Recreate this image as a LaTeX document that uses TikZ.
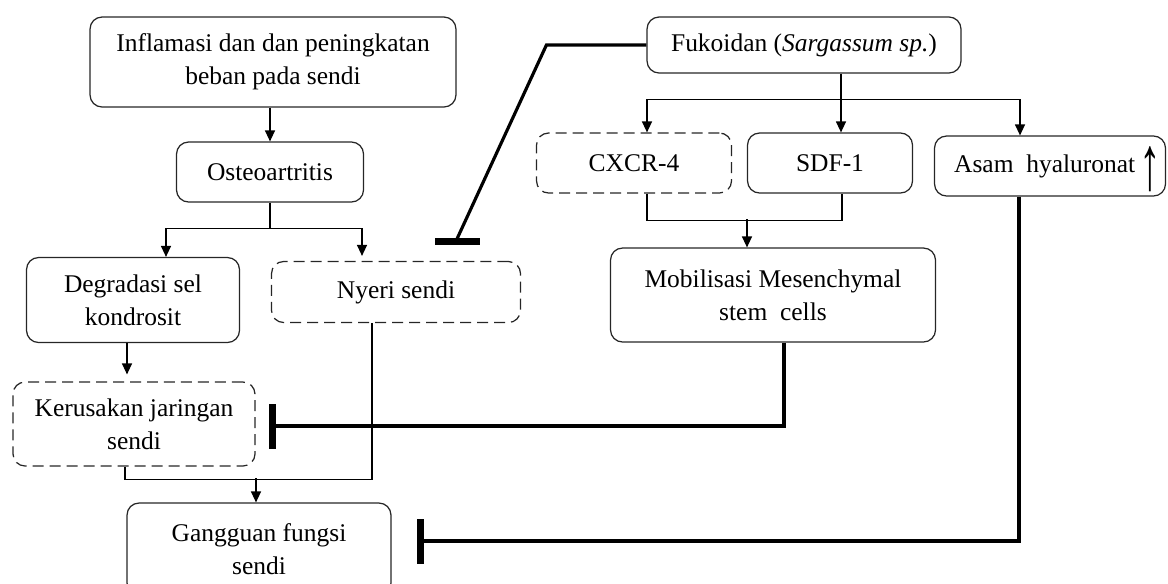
\documentclass[tikz,border=0pt]{standalone}
\usepackage{fontspec}
\setmainfont{Liberation Serif}
\usetikzlibrary{arrows.meta,calc}
\definecolor{boxgray}{rgb}{0.15,0.15,0.15}

\begin{document}
\begin{tikzpicture}[x=0.02cm,y=-0.02cm,
    box/.style={draw=boxgray,line width=0.7pt,rounded corners=0.24cm,align=center,inner sep=0pt,
      font=\fontsize{14.5}{19}\selectfont},
    dbox/.style={box,dash pattern=on 0.22cm off 0.12cm},
    ln/.style={line width=0.75pt},
    arr/.style={ln,-{Triangle[length=0.22cm,width=0.2cm]}},
    inhib/.style={line width=1.8pt,-{Bar[width=0.9cm,line width=4pt]}}]
  \useasboundingbox (0,0) rectangle (1168,583);

  % left column:
  \node[box,minimum width=7.32cm,minimum height=1.8cm] (infl) at (273,62)
    {Inflamasi dan dan peningkatan\\beban pada sendi};
  \node[box,minimum width=3.74cm,minimum height=1.2cm] (osteo) at (270,172) {Osteoartritis};
  \node[box,minimum width=4.26cm,minimum height=1.7cm] (degr) at (133,300) {Degradasi sel\\kondrosit};
  \node[dbox,minimum width=4.98cm,minimum height=1.22cm] (nyeri) at (396,292) {Nyeri sendi};
  \node[dbox,minimum width=4.84cm,minimum height=1.68cm] (kerus) at (134,424) {Kerusakan jaringan\\sendi};
  \node[box,minimum width=5.28cm,minimum height=1.84cm] (gangg) at (259,549) {Gangguan fungsi\\sendi};

  % right column:
  \node[box,minimum width=6.28cm,minimum height=1.12cm] (fuk) at (804,45)
    {Fukoidan (\textit{Sargassum sp.})};
  \node[dbox,minimum width=3.9cm,minimum height=1.2cm] (cxcr) at (634,163) {CXCR-4};
  \node[box,minimum width=3.3cm,minimum height=1.2cm] (sdf) at (830,163) {SDF-1};
  \node[box,minimum width=4.62cm,minimum height=1.2cm] (asam) at (1050,166)
    {\hspace{0.6em}Asam\enspace hyaluronat\,\smash{\raisebox{-0.7em}{\scalebox{1.7}[3.0]{↑}}}};
  \node[box,minimum width=6.5cm,minimum height=1.88cm] (mobil) at (773,295)
    {Mobilisasi Mesenchymal\\stem\enspace cells};

  % arrows, left:
  \draw[arr] (infl.south -| osteo) -- (osteo);
  \draw[ln] (osteo.south) -- ++(0,26) coordinate (osplit);
  \draw[arr] (osplit) -| ($(degr.north)+(33,0)$);
  \draw[arr,shorten >=0.1cm] (osplit) -| ($(nyeri.north)+(-34,0)$);
  \draw[arr,shorten >=0.14cm] ($(degr.south)+(-6,0)$) -- ($(kerus.north)+(-7,0)$);
  \draw[ln] ($(nyeri.south)+(-24,0)$) |- ($(kerus.south)+(-9,13)$) -- ($(kerus.south)+(-9,0)$);
  \draw[arr] ($(gangg.north)+(-3,-24)$) -- ($(gangg.north)+(-3,0)$);

  % arrows, right:
  \draw[ln] ($(fuk.south)+(37,0)$) -- ++(0,26) coordinate (fsplit);
  \draw[arr] (fsplit) -| ($(cxcr.north)+(13,0)$);
  \draw[arr] (fsplit) -- (fsplit |- sdf.north);
  \draw[arr] (fsplit) -| ($(asam.north)+(-30,0)$);
  \draw[ln] ($(cxcr.south)+(13,0)$) |- ($(sdf.south)+(12,27)$) -- ($(sdf.south)+(12,0)$);
  \draw[arr] ($(mobil.north)+(-26,-28)$) -- ($(mobil.north)+(-26,0)$);

  % inhibition:
  \draw[inhib] (fuk.west) -- ++(-100,0) -- ($(nyeri.north)+(61,-22)$) -- ($(nyeri.north)+(61,-16)$);
  \draw[inhib,shorten >=0.26cm] ($(mobil.south)+(11,0)$) |- ($(kerus.east)+(0,2)$);
  \draw[inhib,shorten >=0.5cm] ($(asam.south)+(-31,0)$) |- ($(gangg.east)+(0,-8)$);
\end{tikzpicture}
\end{document}
